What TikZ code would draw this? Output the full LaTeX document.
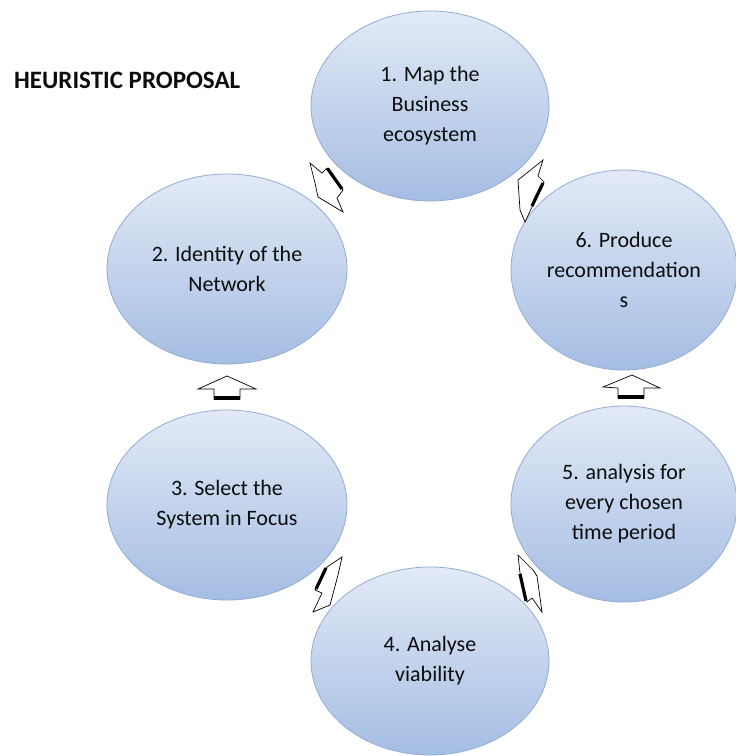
\documentclass[tikz,border=0pt]{standalone}
\usepackage{fontspec}
\setmainfont{Carlito}
\usetikzlibrary{shapes.geometric}
\definecolor{elltop}{HTML}{E2EAF6}
\definecolor{ellbot}{HTML}{A5BDE3}
\definecolor{elledge}{HTML}{93ACD4}
\definecolor{txt}{HTML}{0D0D0D}
\tikzset{
  ell/.style={ellipse, draw=elledge, line width=0.8pt, top color=elltop, bottom color=ellbot,
    minimum width=238pt, minimum height=190pt, inner sep=0pt, align=center,
    text=txt, font=\fontsize{22}{30}\selectfont},
  blk/.style={fill=white, draw=black, line width=0.7pt, line join=miter},
  shade3d/.style={draw=black, line width=3.2pt, line cap=butt},
}
\begin{document}
\begin{tikzpicture}[x=1pt, y=-1pt]
\useasboundingbox (0,0) rectangle (736,756);
\fill[white] (0,0) rectangle (736,756);
% title
\node[anchor=west, font=\fontsize{25}{28}\selectfont\bfseries, text=txt, inner sep=0pt] (title) at (14,80) {HEURISTIC PROPOSAL};
% ellipses
\node[ell] (e1) at (430,106) {1. Map the\\Business\\ecosystem};
\node[ell, minimum width=240pt] (e2) at (227,269) {2. Identity of the\\Network};
\node[ell, minimum width=226pt, minimum height=200pt] (e6) at (624,270) {6. Produce\\recommendation\\s};
\node[ell, minimum width=240pt] (e3) at (227,505) {3. Select the\\System in Focus};
\node[ell, minimum width=226pt, minimum height=196pt] (e5) at (624,504) {5. analysis for\\every chosen\\time period};
\node[ell, minimum height=188pt] (e4) at (430,661) {4. Analyse\\viability};
% arrow 3 -> 2 (up)
\draw[blk] (227,376) -- (256,389) -- (240,389) -- (240,399) -- (214,399) -- (214,389) -- (198,389) -- cycle;
\fill[black] (214,395.5) rectangle (240,399.5);
% arrow 5 -> 6 (up)
\draw[blk] (632,375) -- (660,388) -- (644,388) -- (644,398) -- (618,398) -- (618,388) -- (603,387) -- cycle;
\fill[black] (618,394.5) rectangle (644,398.5);
% arrow between 2 and 1
\draw[blk] (310,163) -- (322,173) -- (327,168) -- (343,190) -- (337,198) -- (343,212) -- (318,197) -- (315,183) -- cycle;
\draw[shade3d] (327.5,168.5) -- (342,189);
% arrow between 6 and 1
\draw[blk] (543,160) -- (538,176) -- (544,182) -- (532,207) -- (525,222) -- (520,210) -- (518,180) -- cycle;
\draw[shade3d] (543,183) -- (532,206);
% arrow between 3 and 4
\draw[blk] (342,557) -- (338,575) -- (330,605) -- (313,612) -- (322,593) -- (315,590) -- (327,567) -- cycle;
\draw[shade3d] (326,568) -- (316,589);
% arrow between 4 and 5
\draw[blk] (518,555) -- (533,570) -- (537,576) -- (542,612) -- (532,598) -- (527,602) -- (520,573) -- cycle;
\draw[shade3d] (520,574) -- (526,601);
\end{tikzpicture}
\end{document}
